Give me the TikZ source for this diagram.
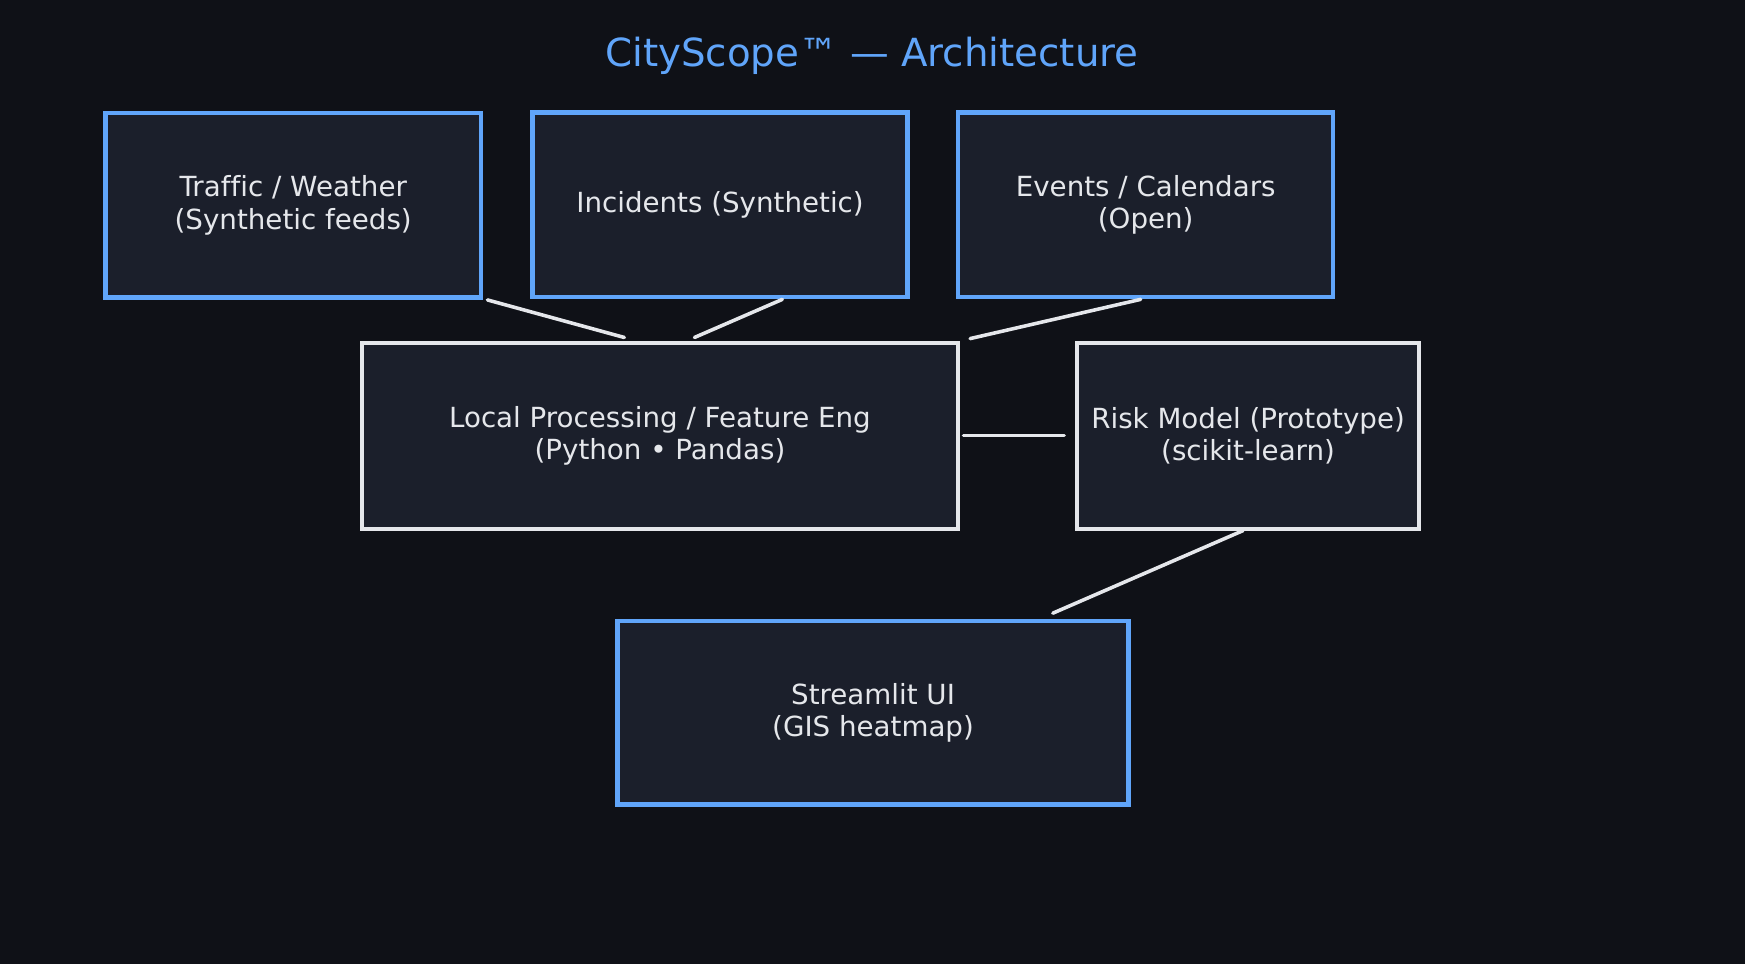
\documentclass[tikz,border=0pt]{standalone}
\usepackage{fontspec}
\setmainfont{DejaVu Sans}[Ligatures=NoCommon]
\usepackage{tikz}
\definecolor{bgdark}{HTML}{0F1117}
\definecolor{boxfill}{HTML}{1B1F2B}
\definecolor{blue1}{HTML}{60A5FA}
\definecolor{white1}{HTML}{E5E7EB}
\tikzset{
  srcbox/.style={draw=blue1,fill=boxfill,line width=2pt,text=white1,align=center,
    font=\fontsize{12.45}{14.6}\selectfont,inner sep=0pt},
  procbox/.style={srcbox,draw=white1,line width=1.75pt},
  link/.style={draw=white1,line width=1.6pt,line cap=round}
}

\begin{document}
\begin{tikzpicture}[x=0.5pt,y=-0.5pt]
\fill[bgdark] (0,0) rectangle (1568,866);
\node[text=blue1,font=\fontsize{17.4}{20}\selectfont] (title) at (783.5,50) {CityScope™ — Architecture};
\node[srcbox,minimum width=168.5pt,minimum height=83pt] (traffic) at (263.5,184.5) {Traffic / Weather\\(Synthetic feeds)};
\node[srcbox,minimum width=168.5pt,minimum height=83pt] (incidents) at (647,184) {Incidents (Synthetic)};
\node[srcbox,minimum width=168.5pt,minimum height=83pt] (events) at (1029.5,184) {Events / Calendars\\(Open)};
\node[procbox,minimum width=268pt,minimum height=83.5pt] (local) at (593,391.5) {Local Processing / Feature Eng\\(Python • Pandas)};
\node[procbox,minimum width=153.5pt,minimum height=83.5pt] (risk) at (1121.5,391.5) {Risk Model (Prototype)\\(scikit-learn)};
\node[srcbox,minimum width=229.5pt,minimum height=82.5pt] (ui) at (784.5,640.5) {Streamlit UI\\(GIS heatmap)};
\draw[link] ([xshift=2pt]traffic.south east) -- ([xshift=-16pt,yshift=1.5pt]local.north);
\draw[link] ([xshift=28pt]incidents.south) -- ([xshift=15.5pt,yshift=1.5pt]local.north);
\draw[link] ([xshift=-2.25pt]events.south) -- ([xshift=4.5pt,yshift=1pt]local.north east);
\draw[link] ([xshift=1.5pt]local.east) -- ([xshift=-5pt]risk.west);
\draw[link] ([xshift=-2.25pt]risk.south) -- ([xshift=80.75pt,yshift=2.5pt]ui.north);
\end{tikzpicture}
\end{document}
